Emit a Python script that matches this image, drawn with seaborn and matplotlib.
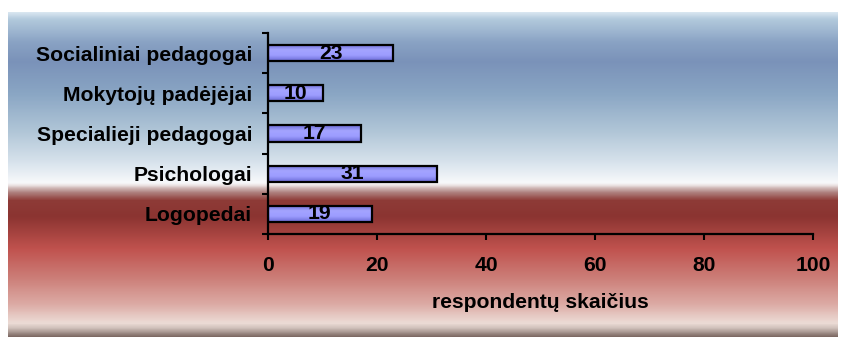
import numpy as np
import pandas as pd
import seaborn as sns
import matplotlib.pyplot as plt
from matplotlib.colors import LinearSegmentedColormap

categories = ["Socialiniai pedagogai", "Mokytojų padėjėjai", "Specialieji pedagogai",
              "Psichologai", "Logopedai"]
counts = [23, 10, 17, 31, 19]
x_ticks = [0, 20, 40, 60, 80, 100]
x_label = "respondentų skaičius"

df = pd.DataFrame({"group": categories, "count": counts})

sns.set_style("ticks")
plt.rcParams["font.family"] = ["Liberation Sans", "DejaVu Sans"]
plt.rcParams["font.weight"] = "bold"
for key in ["text.color", "axes.labelcolor", "xtick.color", "ytick.color"]:
    plt.rcParams[key] = "black"
fs = 15.2

fig = plt.figure(figsize=(8.44, 3.40), dpi=100)
fig.patch.set_facecolor("white")

# blue -> white -> red background panel behind the chart
bg_stops = [(0.0, "#d8e6f0"), (0.02, "#b2c9dc"), (0.09, "#8aa3c4"), (0.15, "#7a92b9"),
            (0.25, "#8aa6c4"), (0.37, "#b2c7d8"), (0.47, "#dbe5ee"), (0.525, "#f8f9fb"),
            (0.535, "#e6dada"), (0.555, "#b08482"), (0.58, "#8e3b37"), (0.63, "#8b3431"),
            (0.73, "#c0524e"), (0.82, "#cc7e78"), (0.90, "#dcaaa4"), (0.96, "#ecdcd6"),
            (0.975, "#cfc0ba"), (1.0, "#7e6a64")]
bg = fig.add_axes([8 / 844, 3 / 340, 830 / 844, 325 / 340], zorder=0)
bg.imshow(np.linspace(0, 1, 500).reshape(-1, 1), aspect="auto",
          cmap=LinearSegmentedColormap.from_list("bg", bg_stops), extent=[0, 1, 0, 1])
bg.axis("off")

ax = fig.add_axes([268 / 844, 1 - 234 / 340, 545 / 844, 201 / 340], zorder=1)
ax.patch.set_alpha(0)
sns.barplot(data=df, y="group", x="count", orient="h", width=0.4, color="#9999ff",
            saturation=1, edgecolor="black", linewidth=1.6, ax=ax)

# shaded fill inside each bar
bar_cmap = LinearSegmentedColormap.from_list("bar", ["#6c6cd6", "#a4a4ff", "#9c9cff", "#6c6cd6"])
for patch in ax.containers[0]:
    bb = patch.get_bbox()
    im = ax.imshow(np.linspace(0, 1, 50).reshape(-1, 1), cmap=bar_cmap, aspect="auto",
                   extent=[bb.x0, bb.x1, bb.y1, bb.y0], zorder=patch.get_zorder() - 0.1)
    im.set_clip_path(patch)
    patch.set_facecolor("none")

ax.bar_label(ax.containers[0], label_type="center", fontsize=fs, fontweight="bold")

ax.set_xlim(0, 100)
ax.set_ylim(len(categories) - 0.5, -0.5)
ax.set_xticks(x_ticks)
ax.set_yticks(np.arange(-0.5, len(categories)), minor=True)
ax.tick_params(axis="y", which="major", length=0, pad=11.5, labelsize=fs)
ax.tick_params(axis="y", which="minor", length=4, width=1.5, color="black")
ax.tick_params(axis="x", length=4.5, width=1.5, color="black", pad=11, labelsize=fs)
ax.set_xlabel(x_label, fontsize=fs, fontweight="bold", labelpad=13)
ax.set_ylabel("")
sns.despine(ax=ax)
for s in ["left", "bottom"]:
    ax.spines[s].set_linewidth(1.6)
    ax.spines[s].set_color("black")

fig.savefig("out.png", dpi=100)
